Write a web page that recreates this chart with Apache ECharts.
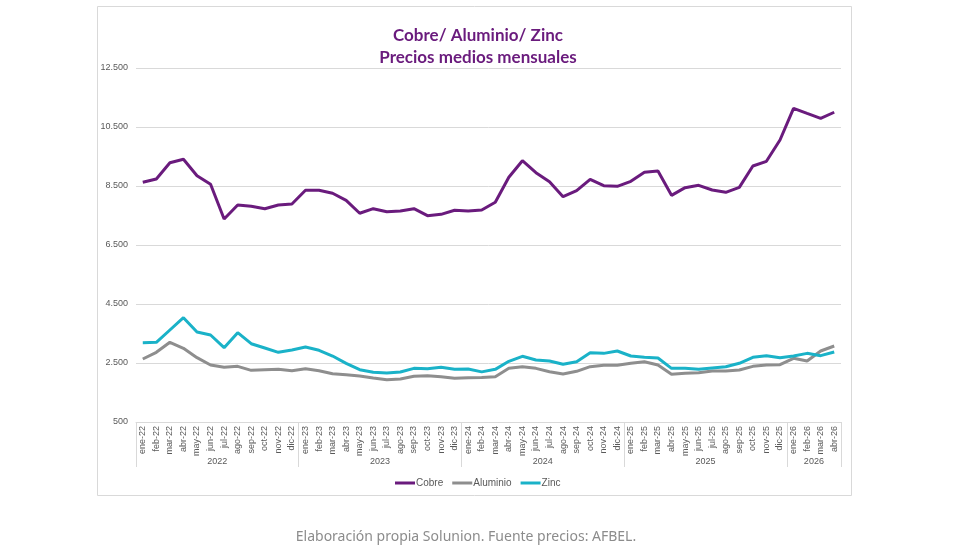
<!DOCTYPE html>
<html><head><meta charset="utf-8">
<script src="https://cdn.jsdelivr.net/npm/echarts@6/dist/echarts.min.js"></script>
<style>html,body{margin:0;padding:0;background:#fff}#c{width:980px;height:560px}</style>
</head><body><div id="c"></div>
<script>
const monthNames = ['ene','feb','mar','abr','may','jun','jul','ago','sep','oct','nov','dic'];
const years = ['2022','2023','2024','2025','2026'];
const monthsPerYear = [12,12,12,12,4];
const categories = [];
years.forEach((y,i)=>{ for(let m=0;m<monthsPerYear[i];m++) categories.push(monthNames[m]+'-'+y.slice(2)); });

const cobre = [8625,8737,9290,9405,8849,8558,7381,7856,7812,7731,7856,7890,
  8354,8354,8253,8015,7575,7731,7629,7652,7731,7493,7540,7676,
  7652,7686,7947,8795,9358,8951,8646,8137,8341,8727,8510,8488,
  8659,8964,9008,8184,8443,8522,8364,8286,8454,9178,9337,10059,
  11134,10964,10795,11000];
const aluminio = [2636,2862,3202,2998,2680,2432,2353,2387,2252,2274,2285,2240,
  2308,2240,2137,2103,2059,1992,1934,1956,2049,2070,2036,1981,
  2003,2010,2036,2319,2375,2319,2206,2127,2218,2375,2421,2421,
  2489,2545,2432,2116,2150,2172,2229,2229,2263,2387,2432,2443,
  2659,2568,2907,3076];
const zinc = [3188,3200,3619,4036,3551,3449,3019,3527,3154,3008,2862,2941,
  3042,2930,2737,2489,2274,2184,2161,2195,2319,2308,2353,2285,
  2297,2200,2285,2557,2727,2602,2568,2455,2545,2850,2827,2907,
  2737,2693,2670,2319,2319,2285,2330,2375,2489,2693,2749,2680,
  2737,2827,2749,2873];
const yTicks = {min:500, max:12500, interval:2000};

// boundaries for year grouping axis (one more than number of months)
const boundaries = [];
const yearLabelAt = {};
const yearTickAt = new Set([0]);
let acc = 0;
years.forEach((y,i)=>{ yearLabelAt[acc + monthsPerYear[i]/2] = y; acc += monthsPerYear[i]; yearTickAt.add(acc); });
for(let b=0;b<=categories.length;b++) boundaries.push(yearLabelAt[b] || '');

const fmt = v => String(v).replace(/\B(?=(\d{3})+(?!\d))/g,'.');
const chart = echarts.init(document.getElementById('c'), null, {renderer:'canvas'});
const axisFont = {fontFamily:'Liberation Sans', fontSize:9, color:'#595959'};
chart.setOption({
  animation:false,
  backgroundColor:'#fff',
  graphic:[{type:'rect', shape:{x:97.5,y:6.5,width:754,height:489}, style:{fill:'none', stroke:'#d9d9d9', lineWidth:1}, silent:true}],
  title:[{
    text:'Cobre/ Aluminio/ Zinc\nPrecios medios mensuales',
    left:473, top:20, textAlign:'center',
    textStyle:{fontFamily:'Lato', fontWeight:'bold', fontSize:17, color:'#6a1b7d', lineHeight:22}
  },{
    text:'Elaboración propia Solunion. Fuente precios: AFBEL.',
    left:461, top:525, textAlign:'center',
    textStyle:{fontFamily:'Noto Sans', fontWeight:'normal', fontSize:14, color:'#8c8c8c'}
  }],
  legend:{
    data:['Cobre','Aluminio','Zinc'], left:390, top:473,
    icon:'rect', itemWidth:20, itemHeight:3, itemGap:9,
    textStyle:{fontFamily:'Liberation Sans', fontSize:10, color:'#595959', padding:[0,0,0,-4]}
  },
  grid:{left:136, right:139, top:68, bottom:138, containLabel:false},
  xAxis:[{
    type:'category', data:categories, boundaryGap:true,
    axisLine:{lineStyle:{color:'#d9d9d9'}}, axisTick:{show:false},
    axisLabel:Object.assign({rotate:90, interval:0, margin:4}, axisFont)
  },{
    type:'category', data:boundaries, boundaryGap:false, position:'bottom',
    axisLine:{show:false},
    axisTick:{show:true, length:45, lineStyle:{color:'#d9d9d9'}, interval:(i)=>yearTickAt.has(i)},
    axisLabel:Object.assign({interval:(i,v)=>v!=='', margin:35}, axisFont)
  }],
  yAxis:{
    type:'value', min:yTicks.min, max:yTicks.max, interval:yTicks.interval,
    axisLine:{show:false}, axisTick:{show:false},
    splitLine:{lineStyle:{color:'#d9d9d9'}},
    axisLabel:Object.assign({formatter:fmt, margin:8}, axisFont)
  },
  series:[
    {name:'Cobre', type:'line', data:cobre, symbol:'none', color:'#6a1b7d', lineStyle:{width:3}},
    {name:'Aluminio', type:'line', data:aluminio, symbol:'none', color:'#8e8e8e', lineStyle:{width:3}},
    {name:'Zinc', type:'line', data:zinc, symbol:'none', color:'#1ab2c8', lineStyle:{width:3}}
  ]
});
</script></body></html>
